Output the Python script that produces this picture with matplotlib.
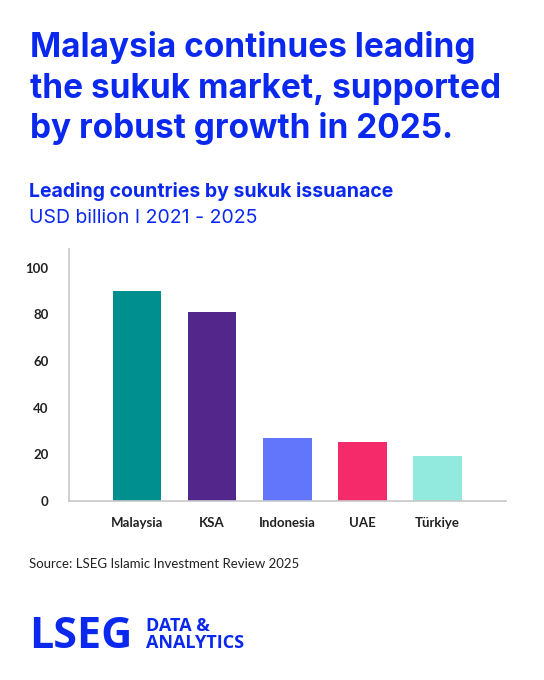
import matplotlib.pyplot as plt

countries = ['Malaysia', 'KSA', 'Indonesia', 'UAE', 'Türkiye']
issuance = [90, 81, 27, 25, 19]
bar_colors = ['#008f8f', '#52268a', '#6276fc', '#f42a6a', '#92e9de']
y_ticks = [0, 20, 40, 60, 80, 100]

headline = ['Malaysia continues leading',
            'the sukuk market, supported',
            'by robust growth in 2025.']
headline_y = [57, 98, 138]

blue = '#0a28ee'
plt.rcParams['font.family'] = ['Lato', 'DejaVu Sans']
head_font = ['Inter', 'DejaVu Sans']

fig = plt.figure(figsize=(5.44, 6.8), dpi=100)
ax = fig.add_axes([0.1263, 0.2637, 0.8037, 0.3697])

ax.bar(range(len(countries)), issuance, width=0.645, color=bar_colors)
ax.set_xlim(-0.91, 4.91)
ax.set_ylim(0, 108)
ax.set_yticks(y_ticks)
ax.set_xticks(range(len(countries)))
ax.set_xticklabels(countries, fontsize=9.5, fontweight='bold', color='#222222')
ax.tick_params(axis='x', length=0, pad=12)
ax.tick_params(axis='y', length=0, pad=14.5, labelsize=9.5, labelcolor='#222222')
for lbl in ax.get_yticklabels():
    lbl.set_fontweight('bold')
for s in ['top', 'right']:
    ax.spines[s].set_visible(False)
for s in ['left', 'bottom']:
    ax.spines[s].set_color('#c8c8c8')
    ax.spines[s].set_linewidth(1.2)

# headline
for line, yp in zip(headline, headline_y):
    fig.text(30 / 544, 1 - yp / 680, line, fontsize=24, fontweight='bold',
             color=blue, va='baseline', ha='left', family=head_font)
fig.text(29 / 544, 1 - 197 / 680, 'Leading countries by sukuk issuanace',
         fontsize=14, fontweight='bold', color=blue, va='baseline', family=head_font)
fig.text(29 / 544, 1 - 222.7 / 680, 'USD billion I 2021 - 2025',
         fontsize=14, color=blue, va='baseline', family=head_font)

fig.text(29 / 544, 1 - 568 / 680, 'Source: LSEG Islamic Investment Review 2025',
         fontsize=9.5, color='#222222', va='baseline')

# logo
fig.text(29 / 544, 1 - 648 / 680, 'LSEG', fontsize=31, fontweight='bold',
         color=blue, va='baseline', family=['Open Sans', 'DejaVu Sans'])
fig.text(146 / 544, 1 - 631 / 680, 'DATA &', fontsize=13, fontweight='bold',
         color=blue, va='baseline', family=['Open Sans', 'DejaVu Sans'])
fig.text(146 / 544, 1 - 648 / 680, 'ANALYTICS', fontsize=13, fontweight='bold',
         color=blue, va='baseline', family=['Open Sans', 'DejaVu Sans'])

fig.savefig('out.png', dpi=100)
